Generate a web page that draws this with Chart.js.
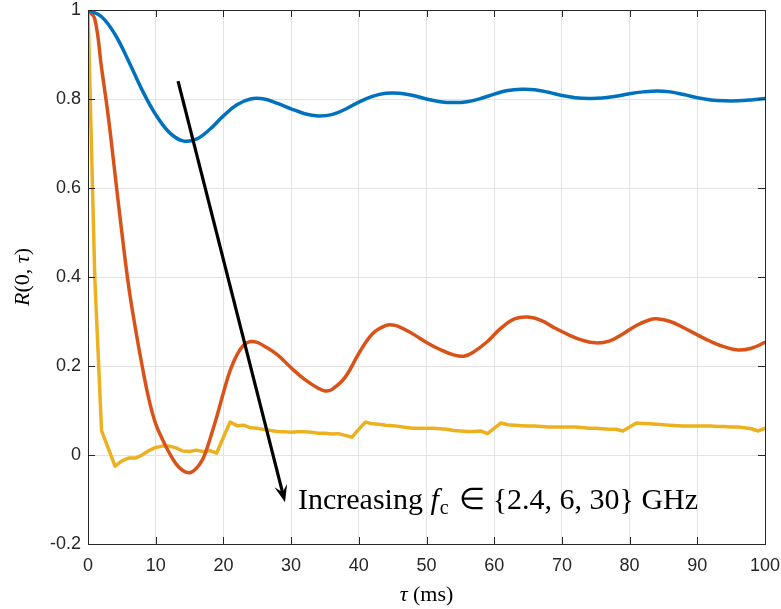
<!DOCTYPE html>
<html><head><meta charset="utf-8">
<script src="https://cdn.jsdelivr.net/npm/chart.js@4"></script>
<style>html,body{margin:0;padding:0;background:#fff}</style>
</head><body>
<canvas id="c" width="781" height="609"></canvas>
<script>
// Delay axis (ms) and normalised correlation R(0, tau) for three carrier frequencies
const tauBlue = [0,2,4,6,8,10,12,14,16,18,20,22,24,26,28,30,32,34,36,38,40,42,44,46,48,50,52,54,56,58,60,62,64,66,68,70,72,74,76,78,80,82,84,86,88,90,92,94,96,98,100];
const rBlue = [1.0,0.985,0.945,0.885,0.82,0.765,0.725,0.706,0.71,0.732,0.762,0.787,0.8,0.8,0.79,0.778,0.767,0.762,0.765,0.777,0.793,0.806,0.813,0.813,0.808,0.8,0.794,0.792,0.794,0.801,0.811,0.819,0.822,0.821,0.815,0.808,0.803,0.801,0.802,0.806,0.812,0.816,0.818,0.816,0.81,0.803,0.798,0.796,0.796,0.798,0.801];

const tauOrange = [0,1,2,3,4,5,6,7,8,9,10,11,12,13,14,15,16,17,18,19,20,21,22,23,24,25,26,28,30,32,34,35,36,38,40,42,44,45,46,48,50,52,54,55.5,57,59,61,63,65,67,69,71,73,75,77,79,81,83,84,86,88,90,92,94,96,98,100];
const rOrange = [1.0,0.98,0.87,0.76,0.63,0.5,0.38,0.285,0.2,0.125,0.07,0.035,0.005,-0.02,-0.035,-0.04,-0.03,-0.008,0.035,0.085,0.14,0.19,0.225,0.247,0.255,0.253,0.245,0.225,0.196,0.17,0.15,0.144,0.147,0.175,0.228,0.272,0.291,0.292,0.288,0.272,0.253,0.237,0.225,0.222,0.232,0.255,0.285,0.306,0.31,0.302,0.285,0.27,0.258,0.252,0.256,0.272,0.291,0.304,0.306,0.3,0.286,0.27,0.255,0.243,0.236,0.24,0.253];

const tauYellow = Array.from({length: 101}, (_, i) => i);
const rYellow = [1,0.4,0.055,0.015,-0.025,-0.013,-0.007,-0.007,0.0,0.01,
  0.017,0.02,0.02,0.016,0.009,0.008,0.011,0.008,0.01,0.004,
  0.04,0.074,0.066,0.067,0.061,0.06,0.057,0.055,0.053,0.052,
  0.051,0.052,0.052,0.051,0.049,0.049,0.047,0.048,0.044,0.04,
  0.058,0.074,0.07,0.069,0.067,0.066,0.064,0.062,0.06,0.06,
  0.06,0.06,0.059,0.058,0.055,0.054,0.053,0.053,0.054,0.048,
  0.06,0.072,0.068,0.067,0.066,0.065,0.065,0.064,0.063,0.063,
  0.063,0.063,0.063,0.062,0.06,0.06,0.059,0.058,0.058,0.054,
  0.063,0.072,0.071,0.07,0.069,0.068,0.067,0.066,0.065,0.065,
  0.065,0.065,0.065,0.064,0.064,0.063,0.063,0.061,0.059,0.054,0.06];

const xTickLabels = ['0','10','20','30','40','50','60','70','80','90','100'];
const yTickLabels = ['-0.2','0','0.2','0.4','0.6','0.8','1'];

// Arrow endpoints in data units (tau, R)
const arrowFrom = [13.3, 0.84];
const arrowTo = [29.1, -0.106];

const toPts = (xs, ys) => xs.map((x, i) => ({x, y: ys[i]}));
const AX = '#262626';
const SERIF = '"Liberation Serif"';

const frame = {
  id: 'frame',
  afterDraw(chart) {
    const {ctx, chartArea: a, scales: {x, y}} = chart;
    ctx.save();
    // box and inward ticks
    ctx.strokeStyle = AX; ctx.lineWidth = 1;
    ctx.strokeRect(Math.round(a.left) + 0.5, Math.round(a.top) + 0.5, Math.round(a.right - a.left), Math.round(a.bottom - a.top));
    ctx.beginPath();
    for (let v = 0; v <= 100; v += 10) {
      const px = Math.round(x.getPixelForValue(v)) + 0.5;
      ctx.moveTo(px, a.bottom); ctx.lineTo(px, a.bottom - 7);
      ctx.moveTo(px, a.top); ctx.lineTo(px, a.top + 7);
    }
    for (let k = 0; k < yTickLabels.length; k++) {
      const py = Math.round(y.getPixelForValue(-0.2 + 0.2 * k)) + 0.5;
      ctx.moveTo(a.left, py); ctx.lineTo(a.left + 7, py);
      ctx.moveTo(a.right, py); ctx.lineTo(a.right - 7, py);
    }
    ctx.stroke();

    // arrow
    const x0 = x.getPixelForValue(arrowFrom[0]), y0 = y.getPixelForValue(arrowFrom[1]);
    const x1 = x.getPixelForValue(arrowTo[0]), y1 = y.getPixelForValue(arrowTo[1]);
    const len = Math.hypot(x1 - x0, y1 - y0);
    const ux = (x1 - x0) / len, uy = (y1 - y0) / len, nx = -uy, ny = ux;
    const L = 17, W = 13;
    ctx.strokeStyle = '#000'; ctx.fillStyle = '#000'; ctx.lineWidth = 3.2;
    ctx.beginPath(); ctx.moveTo(x0, y0); ctx.lineTo(x1 - ux * 8, y1 - uy * 8); ctx.stroke();
    ctx.beginPath();
    ctx.moveTo(x1, y1);
    ctx.lineTo(x1 - ux * L + nx * W / 2, y1 - uy * L + ny * W / 2);
    ctx.lineTo(x1 - ux * L * 0.6, y1 - uy * L * 0.6);
    ctx.lineTo(x1 - ux * L - nx * W / 2, y1 - uy * L - ny * W / 2);
    ctx.closePath(); ctx.fill();

    // annotation text
    ctx.fillStyle = '#000'; ctx.textBaseline = 'alphabetic'; ctx.textAlign = 'left';
    let tx = 298; const by = 509;
    const seg = (s, font, dy = 0) => { ctx.font = font; ctx.fillText(s, tx, by + dy); tx += ctx.measureText(s).width; };
    seg('Increasing ', '30px ' + SERIF);
    seg('f', 'italic 30px ' + SERIF);
    tx += 1;
    seg('c', '20px ' + SERIF, 5);
    tx += 3;
    seg(' \u2208 {2.4, 6, 30} GHz', '30px ' + SERIF);

    // axis titles
    ctx.fillStyle = '#000';
    ctx.textAlign = 'left';
    const cx = (a.left + a.right) / 2;
    ctx.font = 'italic 22px ' + SERIF;
    const w1 = ctx.measureText('\u03C4').width;
    ctx.font = '22px ' + SERIF;
    const w2 = ctx.measureText(' (ms)').width;
    const xx = cx - (w1 + w2) / 2;
    ctx.font = 'italic 22px ' + SERIF; ctx.fillText('\u03C4', xx, 601);
    ctx.font = '22px ' + SERIF; ctx.fillText(' (ms)', xx + w1, 601);

    ctx.translate(29, (a.top + a.bottom) / 2);
    ctx.rotate(-Math.PI / 2);
    const parts = [['R', 'italic '], ['(0, ', ''], ['\u03C4', 'italic '], [')', '']];
    let tot = 0;
    parts.forEach(([s, st]) => { ctx.font = st + '22px ' + SERIF; tot += ctx.measureText(s).width; });
    let px = -tot / 2;
    parts.forEach(([s, st]) => { ctx.font = st + '22px ' + SERIF; ctx.fillText(s, px, 0); px += ctx.measureText(s).width; });
    ctx.restore();
  }
};

new Chart(document.getElementById('c'), {
  type: 'line',
  data: {
    datasets: [
      {data: toPts(tauBlue, rBlue), borderColor: '#0072BD', tension: 0.4},
      {data: toPts(tauOrange, rOrange), borderColor: '#D95319', tension: 0.4},
      {data: toPts(tauYellow, rYellow), borderColor: '#EDB120', tension: 0}
    ]
  },
  options: {
    responsive: false,
    animation: false,
    layout: {padding: {left: 0, right: 16, top: 10, bottom: 0}},
    elements: {point: {radius: 0}, line: {borderWidth: 3.5, borderCapStyle: 'round', borderJoinStyle: 'round'}},
    plugins: {legend: {display: false}, tooltip: {enabled: false}},
    scales: {
      x: {
        type: 'linear', min: 0, max: 100,
        border: {display: false},
        grid: {color: '#e3e3e3', drawTicks: false},
        ticks: {stepSize: 10, padding: 11, color: AX, font: {family: '"Liberation Sans"', size: 18},
          callback: (v, i) => xTickLabels[i]},
        afterFit: s => { s.height = 65; s.paddingLeft = 0; s.paddingRight = 0; }
      },
      y: {
        type: 'linear', min: -0.2, max: 1,
        border: {display: false},
        grid: {color: '#e3e3e3', drawTicks: false},
        ticks: {stepSize: 0.2, padding: 7, color: AX, font: {family: '"Liberation Sans"', size: 18},
          callback: (v, i) => yTickLabels[i]},
        afterFit: s => { s.width = 88; s.paddingTop = 0; s.paddingBottom = 0; }
      }
    }
  },
  plugins: [frame]
});
</script>
</body></html>
